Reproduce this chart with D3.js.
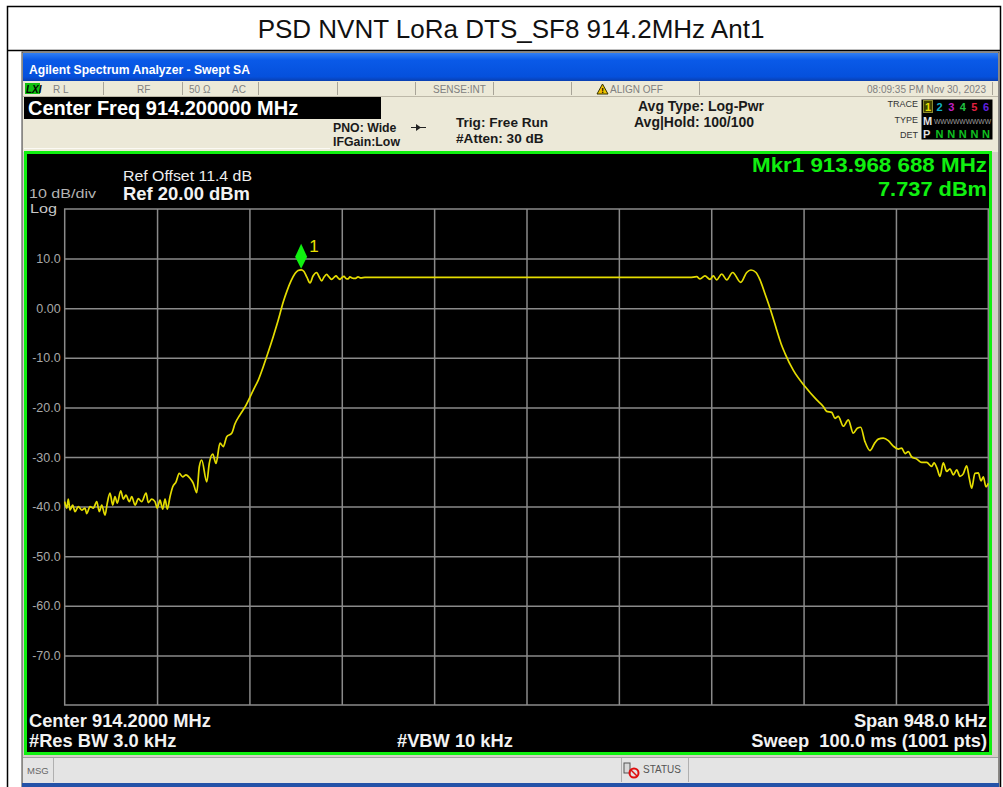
<!DOCTYPE html>
<html lang="en">
<head>
<meta charset="utf-8" />
<title>PSD NVNT LoRa DTS_SF8 914.2MHz Ant1</title>
<style>
  body { margin: 0; background: #fff; }
  svg text { font-family: "Liberation Sans", Arial, sans-serif; }
  .grid line { stroke: #8a8a8a; stroke-width: 1.5; }
  .ylab text { fill: #a8a8a8; font-size: 12.5px; }
  .scr { fill: #f2f2f2; font-weight: bold; }
  .hdr { fill: #1a1a1a; font-weight: bold; }
  .stat { fill: #808080; font-size: 10px; }
</style>
<script src="https://cdn.jsdelivr.net/npm/d3@7/dist/d3.min.js"></script>
</head>
<body>
<script>
// ---- chart values ----
var centerMHz = 914.2,
    spanKHz = 948,
    refLevel = 20;          // dBm, top of screen, 10 dB/div

// trace: frequency offset from center (kHz) and level (dBm)
var offsetKHz = [
  -474, -471.9, -470.3, -468.6, -465.8, -463.4, -460.0, -456.5, -453.2, -451.4,
  -448.0, -444.6, -441.1, -438.5, -436.0, -432.6, -430.3, -427.5, -424.7, -422.4,
  -420.0, -416.5, -413.8, -411.1, -407.7, -405.2, -401.8, -398.4, -395.0, -390.5,
  -388.2, -384.7, -381.3, -379.0, -376.2, -373.4, -371.0, -368.7, -365.9, -363.1,
  -359.7, -356.4, -352.9, -349.5, -345.4, -342.0, -338.5, -335.8, -333.4, -328.2,
  -325.6, -322.1, -318.7, -314.6, -311.2, -307.7, -302.6, -299.2, -294.1, -288.9,
  -280.4, -275.3, -270.2, -265.0, -259.9, -254.8, -249.6, -245.8, -241.7, -237.6,
  -234.5, -231.3, -228.4, -225.3, -222.2, -219.1, -215.3, -213.0, -210.2, -207.8,
  -205.1, -202.7, -199.9, -197.6, -195.5, -193.5, -191.4, -189.4, -187.3, -185.3,
  -183.2, -181.2, -179.1, -176.0, -172.9, -169.9, -165.8, 0, 167.8, 174.7,
  178.1, 183.2, 188.3, 191.7, 195.2, 200.4, 205.5, 211.6, 219.9, 226.0,
  230.4, 235.6, 239.7, 244.1, 248.2, 252.7, 256.8, 261.2, 265.3, 273.8,
  285.9, 297.9, 304.6, 308.1, 313.3, 316.6, 320.0, 325.2, 330.3, 335.4,
  339.5, 343.0, 347.4, 352.6, 357.7, 361.1, 366.2, 371.4, 376.5, 381.6,
  385.1, 388.5, 391.9, 395.4, 400.5, 405.6, 410.8, 415.9, 418.3, 421.6,
  424.4, 427.8, 431.3, 434.7, 438.1, 441.6, 444.9, 448.3, 451.8, 454.5,
  456.9, 460.3, 463.7, 466.5, 468.9, 471.6, 474.0
];
var levelDbm = [
  -39.0, -40.3, -38.5, -40.7, -39.7, -41.0, -40.0, -40.7, -40.3, -41.4,
  -40.0, -40.3, -39.0, -41.0, -39.7, -41.7, -39.3, -37.3, -39.7, -38.0,
  -39.3, -36.8, -38.5, -37.7, -39.0, -38.0, -39.7, -38.4, -39.0, -37.3,
  -39.2, -38.5, -39.0, -40.3, -38.7, -40.5, -38.5, -40.5, -38.0, -36.0,
  -35.0, -33.3, -34.0, -33.6, -34.3, -35.3, -37.2, -31.9, -30.6, -35.0,
  -31.3, -29.4, -31.3, -27.2, -27.9, -25.9, -25.2, -23.3, -21.5, -19.9,
  -16.5, -14.5, -11.8, -8.8, -5.7, -2.4, 1.3, 3.5, 5.5, 7.0,
  7.6, 7.737, 7.4, 6.2, 5.1, 6.5, 7.2, 6.4, 5.5, 6.3,
  6.8, 6.3, 5.8, 6.2, 6.5, 6.1, 5.8, 6.2, 6.4, 6.0,
  5.9, 6.3, 6.1, 6.0, 6.3, 6.1, 6.2, 6.2, 6.2, 6.35,
  5.9, 6.5, 5.8, 6.5, 5.7, 6.9, 5.7, 7.2, 5.2, 7.2,
  7.7, 7.2, 5.7, 3.3, 1.0, -1.7, -4.4, -7.1, -9.1, -12.5,
  -15.8, -18.5, -19.8, -20.8, -21.0, -22.2, -21.8, -23.8, -22.5, -25.2,
  -24.2, -24.0, -26.9, -28.7, -27.1, -26.4, -26.2, -26.7, -27.8, -28.4,
  -28.2, -29.3, -28.9, -30.0, -30.4, -31.1, -31.1, -31.9, -31.2, -32.4,
  -33.9, -31.2, -32.9, -32.4, -33.6, -32.6, -33.9, -33.4, -31.8, -34.3,
  -36.3, -33.3, -33.2, -34.8, -34.0, -36.0, -35.3
];

var yTicks = [10, 0, -10, -20, -30, -40, -50, -60, -70];
var yTickLabels = ['10.0', '0.00', '-10.0', '-20.0', '-30.0', '-40.0', '-50.0', '-60.0', '-70.0'];

var markerMHz = 913.968688,
    markerDbm = 7.737;

var traceNums = ['1', '2', '3', '4', '5', '6'];
var traceColors = ['#e8e000', '#10b0c8', '#c020c0', '#20c040', '#e02040', '#6020e0'];

// ---- page ----
var W = 1003, H = 787;
var svg = d3.select('body').append('svg').attr('width', W).attr('height', H);

var defs = svg.append('defs');
var grad = defs.append('linearGradient').attr('id', 'bluebar')
    .attr('x1', 0).attr('y1', 0).attr('x2', 0).attr('y2', 1);
grad.append('stop').attr('offset', '0%').attr('stop-color', '#2f7ef5');
grad.append('stop').attr('offset', '25%').attr('stop-color', '#0a5ae8');
grad.append('stop').attr('offset', '85%').attr('stop-color', '#0550dc');
grad.append('stop').attr('offset', '100%').attr('stop-color', '#0a3fb0');

// document frame + title
svg.append('rect').attr('x', 7.5).attr('y', 6.5).attr('width', 993).attr('height', 790)
    .attr('fill', 'none').attr('stroke', '#000').attr('stroke-width', 1.5);
svg.append('line').attr('x1', 7).attr('x2', 1001).attr('y1', 50.5).attr('y2', 50.5)
    .attr('stroke', '#000').attr('stroke-width', 1.5);
svg.append('text').attr('x', 511).attr('y', 38).attr('text-anchor', 'middle')
    .attr('font-size', 26).attr('fill', '#111')
    .text('PSD NVNT LoRa DTS_SF8 914.2MHz Ant1');

// analyzer window
svg.append('rect').attr('x', 22).attr('y', 52).attr('width', 977).attr('height', 735)
    .attr('fill', '#d4d0c8').attr('stroke', '#404040').attr('stroke-width', 1);
svg.append('rect').attr('x', 23).attr('y', 53).attr('width', 975).attr('height', 28)
    .attr('fill', 'url(#bluebar)');
svg.append('text').attr('x', 29).attr('y', 74).attr('fill', '#fff')
    .attr('font-size', 12).attr('font-weight', 'bold')
    .attr('textLength', 221).attr('lengthAdjust', 'spacingAndGlyphs')
    .text('Agilent Spectrum Analyzer - Swept SA');

// status row
svg.append('rect').attr('x', 23).attr('y', 81).attr('width', 975).attr('height', 15)
    .attr('fill', '#ece9d8');
var seps = [103, 182, 258, 337, 415, 493, 571, 699, 992];
svg.append('g').selectAll('line').data(seps).enter().append('line')
    .attr('x1', function(d) { return d + 0.5; }).attr('x2', function(d) { return d + 0.5; })
    .attr('y1', 82).attr('y2', 95).attr('stroke', '#a8a498');
svg.append('rect').attr('x', 25).attr('y', 83).attr('width', 15).attr('height', 11).attr('fill', '#10c010');
svg.append('text').attr('x', 26).attr('y', 92.5).attr('font-size', 10).attr('font-weight', 'bold')
    .attr('font-style', 'italic').attr('fill', '#000').text('LXI');
var statTexts = [[53, 'R L', '#606060'], [137, 'RF', '#909090'], [189, '50 \u03a9', '#909090'],
                 [232, 'AC', '#909090'], [433, 'SENSE:INT', '#909090'], [610, 'ALIGN OFF', '#909090']];
svg.append('g').selectAll('text').data(statTexts).enter().append('text')
    .attr('class', 'stat').attr('x', function(d) { return d[0]; }).attr('y', 93)
    .attr('fill', function(d) { return d[2]; }).text(function(d) { return d[1]; });
svg.append('path').attr('d', 'M597,94 L602.5,84 L608,94 Z').attr('fill', '#f0c000').attr('stroke', '#303000');
svg.append('text').attr('x', 602.5).attr('y', 93).attr('text-anchor', 'middle')
    .attr('font-size', 8).attr('font-weight', 'bold').attr('fill', '#000').text('!');
svg.append('text').attr('class', 'stat').attr('x', 986).attr('y', 93).attr('text-anchor', 'end')
    .attr('fill', '#606060').text('08:09:35 PM Nov 30, 2023');

// info panel
svg.append('rect').attr('x', 23).attr('y', 96).attr('width', 975).attr('height', 56)
    .attr('fill', '#ece9d8');
svg.append('line').attr('x1', 23).attr('x2', 998).attr('y1', 96.5).attr('y2', 96.5).attr('stroke', '#bdb8a8');
svg.append('rect').attr('x', 24).attr('y', 97).attr('width', 357).attr('height', 22).attr('fill', '#000');
svg.append('text').attr('x', 28).attr('y', 115).attr('fill', '#fff')
    .attr('font-size', 20).attr('font-weight', 'bold')
    .text('Center Freq 914.200000 MHz');
svg.append('line').attr('x1', 24).attr('x2', 330).attr('y1', 148.5).attr('y2', 148.5).attr('stroke', '#fbfaf4');

var hdrTexts = [[333, 132, 'PNO: Wide', 12.3], [333, 146, 'IFGain:Low', 12.3],
                [456, 127, 'Trig: Free Run', 13.6], [456, 143, '#Atten: 30 dB', 13.6],
                [638, 111, 'Avg Type: Log-Pwr', 14], [634, 127, 'Avg|Hold: 100/100', 14]];
svg.append('g').selectAll('text').data(hdrTexts).enter().append('text')
    .attr('class', 'hdr').attr('x', function(d) { return d[0]; }).attr('y', function(d) { return d[1]; })
    .attr('font-size', function(d) { return d[3]; }).text(function(d) { return d[2]; });
// trigger arrow symbol
svg.append('line').attr('x1', 411).attr('x2', 426).attr('y1', 127.5).attr('y2', 127.5).attr('stroke', '#222');
svg.append('path').attr('d', 'M416,124 L421,127.5 L416,131 Z').attr('fill', '#222');

// trace panel
svg.append('g').selectAll('text').data([['TRACE', 107], ['TYPE', 123], ['DET', 138]]).enter()
    .append('text').attr('x', 918).attr('y', function(d) { return d[1]; }).attr('text-anchor', 'end')
    .attr('font-size', 9).attr('fill', '#333').text(function(d) { return d[0]; });
svg.append('rect').attr('x', 921.5).attr('y', 99.5).attr('width', 71).attr('height', 40).attr('fill', '#000');
svg.append('rect').attr('x', 923.5).attr('y', 100.5).attr('width', 9).attr('height', 12)
    .attr('fill', '#404000').attr('stroke', '#8a8a30');
svg.append('g').selectAll('text').data(traceNums).enter().append('text')
    .attr('x', function(d, i) { return 928 + i * 11.6; }).attr('y', 111)
    .attr('text-anchor', 'middle').attr('font-size', 11).attr('font-weight', 'bold')
    .attr('fill', function(d, i) { return traceColors[i]; }).text(function(d) { return d; });
svg.append('text').attr('x', 923).attr('y', 125).attr('font-size', 11).attr('font-weight', 'bold')
    .attr('fill', '#e0e0e0').text('M');
svg.append('text').attr('x', 934).attr('y', 124).attr('font-size', 8).attr('fill', '#a0a0a0')
    .attr('textLength', 57).attr('lengthAdjust', 'spacingAndGlyphs').text('WWWWWWWWW');
svg.append('text').attr('x', 923).attr('y', 138).attr('font-size', 11).attr('font-weight', 'bold')
    .attr('fill', '#e0e0e0').text('P');
svg.append('g').selectAll('text').data(traceNums.slice(1)).enter().append('text')
    .attr('x', function(d, i) { return 939.6 + i * 11.6; }).attr('y', 138)
    .attr('text-anchor', 'middle').attr('font-size', 11).attr('font-weight', 'bold')
    .attr('fill', '#10c020').text('N');

// ---- screen ----
svg.append('rect').attr('x', 25.5).attr('y', 152.5).attr('width', 965).attr('height', 601)
    .attr('fill', '#000').attr('stroke', '#10f010').attr('stroke-width', 3);

var plot = { left: 64.7, right: 988.3, top: 209, bottom: 705 };
var x = d3.scaleLinear().domain([-spanKHz / 2, spanKHz / 2]).range([plot.left, plot.right]);
var y = d3.scaleLinear().domain([refLevel - 100, refLevel]).range([plot.bottom, plot.top]);

// vertical grid (10 divisions)
var xGrid = d3.range(1, 10).map(function(i) { return -spanKHz / 2 + i * spanKHz / 10; });
svg.append('g').attr('class', 'grid')
    .attr('transform', 'translate(0,' + plot.bottom + ')')
    .call(d3.axisBottom(x).tickValues(xGrid).tickSize(-(plot.bottom - plot.top)).tickFormat(''))
    .call(function(g) { g.select('.domain').remove(); });

// horizontal grid + labels
svg.append('g').attr('class', 'grid ylab')
    .attr('transform', 'translate(' + plot.left + ',0)')
    .call(d3.axisLeft(y).tickValues(yTicks).tickSize(-(plot.right - plot.left)).tickPadding(4)
        .tickFormat(function(d, i) { return yTickLabels[i]; }))
    .call(function(g) {
        g.select('.domain').remove();
        g.selectAll('text').attr('fill', '#a8a8a8').attr('font-size', 12.5)
            .attr('font-family', '"Liberation Sans", Arial, sans-serif');
    });

svg.append('rect').attr('x', plot.left).attr('y', plot.top)
    .attr('width', plot.right - plot.left).attr('height', plot.bottom - plot.top)
    .attr('fill', 'none').attr('stroke', '#8a8a8a').attr('stroke-width', 1.5);

// trace
var points = offsetKHz.map(function(k, i) { return [k, levelDbm[i]]; });
var line = d3.line()
    .x(function(d) { return x(d[0]); })
    .y(function(d) { return y(d[1]); })
    .curve(d3.curveMonotoneX);
svg.append('path').datum(points).attr('d', line)
    .attr('fill', 'none').attr('stroke', '#e4dc00').attr('stroke-width', 1.7)
    .attr('stroke-linejoin', 'round');

// marker 1
var mx = x((markerMHz - centerMHz) * 1000), my = y(markerDbm);
svg.append('path')
    .attr('d', 'M' + mx + ',' + (my - 1) + ' L' + (mx + 6) + ',' + (my - 13) +
               ' L' + mx + ',' + (my - 26) + ' L' + (mx - 6) + ',' + (my - 13) + ' Z')
    .attr('fill', '#10f010');
svg.append('text').attr('x', mx + 8).attr('y', my - 18).attr('font-size', 17)
    .attr('fill', '#e8e000').text('1');

// screen annotations
svg.append('text').attr('x', 123).attr('y', 181).attr('font-size', 14).attr('fill', '#eee')
    .attr('textLength', 129).attr('lengthAdjust', 'spacingAndGlyphs')
    .text('Ref Offset 11.4 dB');
svg.append('text').attr('class', 'scr').attr('x', 123).attr('y', 200).attr('font-size', 17.5)
    .attr('textLength', 127).attr('lengthAdjust', 'spacingAndGlyphs')
    .text('Ref 20.00 dBm');
svg.append('text').attr('x', 29).attr('y', 198).attr('font-size', 13.5).attr('fill', '#b4b4b4')
    .attr('textLength', 67).attr('lengthAdjust', 'spacingAndGlyphs')
    .text('10 dB/div');
svg.append('text').attr('x', 30).attr('y', 213).attr('font-size', 13.5).attr('fill', '#c8c8c8')
    .attr('textLength', 27).attr('lengthAdjust', 'spacingAndGlyphs')
    .text('Log');

svg.append('text').attr('x', 987).attr('y', 171.5).attr('text-anchor', 'end')
    .attr('font-size', 21).attr('font-weight', 'bold').attr('fill', '#10f010')
    .attr('textLength', 235).attr('lengthAdjust', 'spacingAndGlyphs')
    .text('Mkr1 913.968 688 MHz');
svg.append('text').attr('x', 987).attr('y', 195.5).attr('text-anchor', 'end')
    .attr('font-size', 21).attr('font-weight', 'bold').attr('fill', '#10f010')
    .attr('textLength', 109).attr('lengthAdjust', 'spacingAndGlyphs')
    .text('7.737 dBm');

var footTexts = [[29, 727, 'start', 'Center 914.2000 MHz'], [29, 747, 'start', '#Res BW 3.0 kHz'],
                 [397, 747, 'start', '#VBW 10 kHz'], [987, 727, 'end', 'Span 948.0 kHz'],
                 [987, 747, 'end', 'Sweep  100.0 ms (1001 pts)']];
svg.append('g').selectAll('text').data(footTexts).enter().append('text')
    .attr('class', 'scr').attr('font-size', 18.3).attr('xml:space', 'preserve')
    .attr('x', function(d) { return d[0]; }).attr('y', function(d) { return d[1]; })
    .attr('text-anchor', function(d) { return d[2]; }).text(function(d) { return d[3]; });

// message bar
svg.append('rect').attr('x', 23).attr('y', 757).attr('width', 975).attr('height', 26)
    .attr('fill', '#e4e4e4');
svg.append('line').attr('x1', 23).attr('x2', 998).attr('y1', 757.5).attr('y2', 757.5).attr('stroke', '#a0a0a0');
svg.append('g').selectAll('line').data([53, 621, 688]).enter().append('line')
    .attr('x1', function(d) { return d + 0.5; }).attr('x2', function(d) { return d + 0.5; })
    .attr('y1', 758).attr('y2', 782).attr('stroke', '#b0b0b0');
svg.append('text').attr('x', 27).attr('y', 774).attr('font-size', 9.5).attr('fill', '#666').text('MSG');
svg.append('text').attr('x', 643).attr('y', 773).attr('font-size', 10).attr('fill', '#555').text('STATUS');
svg.append('rect').attr('x', 624).attr('y', 763).attr('width', 6).attr('height', 10)
    .attr('fill', '#d8d8d8').attr('stroke', '#555');
svg.append('circle').attr('cx', 634).attr('cy', 773).attr('r', 4.5)
    .attr('fill', 'none').attr('stroke', '#e01010').attr('stroke-width', 2);
svg.append('line').attr('x1', 631).attr('x2', 637).attr('y1', 770).attr('y2', 776)
    .attr('stroke', '#e01010').attr('stroke-width', 1.5);
svg.append('rect').attr('x', 22).attr('y', 783).attr('width', 977).attr('height', 4).attr('fill', '#2452a8');
</script>
</body>
</html>
